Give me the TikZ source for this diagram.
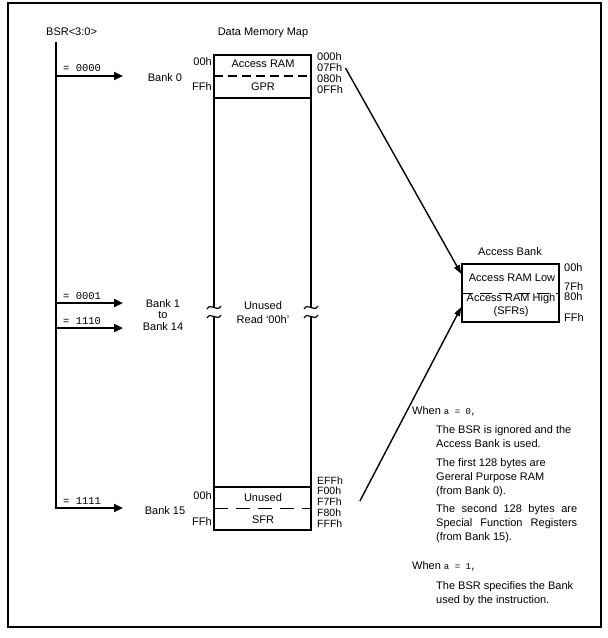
\documentclass[tikz,border=0pt]{standalone}
\usepackage{fontspec}
\setmainfont{Liberation Sans}
\newfontfamily\monof{Liberation Mono}
\usetikzlibrary{arrows.meta,calc}
\begin{document}
\begin{tikzpicture}[x=1pt,y=-1pt,
  txt/.style={font=\fontsize{11}{13}\selectfont, inner sep=0pt},
  mono/.style={font=\monof\fontsize{10.5}{12}\selectfont, inner sep=0pt, anchor=west},
  para/.style={font=\fontsize{11}{14}\selectfont, inner sep=0pt, align=left, anchor=north west},
  bsrarrow/.style={line width=2.2pt, -{Triangle[length=9pt,width=8pt]}},
  diag/.style={line width=1.4pt, -{Triangle[length=9pt,width=6pt]}},
  mem/.style={line width=1.4pt},
  hexr/.style={txt, anchor=west},
  hexl/.style={txt, anchor=east},
  hexs/.style={hexr, font=\fontsize{10.5}{12}\selectfont},
]
\useasboundingbox (0,0) rectangle (608,638);
\draw[line width=2.5pt] (8,3) rectangle (601,627);

% BSR bus
\node[txt, anchor=west] (bsr) at (46,32) {BSR<3:0>};
\coordinate (btop) at (56,42);
\coordinate (b0) at (56,76);
\coordinate (b1) at (56,303);
\coordinate (b14) at (56,328);
\coordinate (bbot) at (56,508);
\coordinate (a0) at (123,76);
\coordinate (a1) at (123,303);
\coordinate (a14) at (123,328);
\coordinate (a15) at (123,508);
\draw[bsrarrow, line join=miter] (btop) -- (bbot) -- (a15);
\draw[bsrarrow] (b0) -- (a0);
\draw[bsrarrow] (b1) -- (a1);
\draw[bsrarrow] (b14) -- (a14);
\node[mono] (s0) at (63,68) {= 0000};
\node[mono] (s1) at (63,296) {= 0001};
\node[mono] (s14) at (63,321) {= 1110};
\node[mono] (s15) at (63,501) {= 1111};
\node[txt] (bank0) at (165,78) {Bank 0};
\node[txt, align=center, font=\fontsize{11}{11.5}\selectfont] (bank1) at (163,315) {Bank 1\\to\\Bank 14};
\node[txt] (bank15) at (165,511) {Bank 15};

% Data memory map
\node[txt] (title) at (263,33) {Data Memory Map};
\draw[mem] (214,55) rectangle (311,98);
\draw[mem] (214,487) rectangle (311,530);
\draw[line width=2pt, dash pattern=on 9pt off 5pt] (214,76) -- (311,76);
\draw[line width=1pt, dash pattern=on 14pt off 8pt] (214,508) -- (311,508);
\foreach \x in {214,311} {
  \draw[mem] (\x,98) -- (\x,307);
  \draw[mem] (\x,316) -- (\x,487);
  \draw[line width=1.2pt] (\x-7,309) .. controls (\x-3,302) and (\x+3,313) .. (\x+7,306);
  \draw[line width=1.2pt] (\x-7,318) .. controls (\x-3,311) and (\x+3,322) .. (\x+7,315);
}
\node[txt] (accram) at (263,64) {Access RAM};
\node[txt] (gpr) at (263,87) {GPR};
\node[txt] (unused) at (263,306) {Unused};
\node[txt] (read) at (263,320) {Read ‘00h’};
\node[txt] (unused15) at (263,498) {Unused};
\node[txt] (sfr) at (263,520) {SFR};
\node[hexl] (l00a) at (212,62) {00h};
\node[hexl] (lFFa) at (212,87) {FFh};
\node[hexl] (l00b) at (212,496) {00h};
\node[hexl] (lFFb) at (212,522) {FFh};
\node[hexr] (r000) at (317,57) {000h};
\node[hexr] (r07F) at (317,68) {07Fh};
\node[hexr] (r080) at (317,79) {080h};
\node[hexr] (r0FF) at (317,90) {0FFh};
\node[hexs] (rEFF) at (317,481) {EFFh};
\node[hexs] (rF00) at (317,491) {F00h};
\node[hexs] (rF7F) at (317,502) {F7Fh};
\node[hexs] (rF80) at (317,513) {F80h};
\node[hexs] (rFFF) at (317,524) {FFFh};

% Access bank
\node[txt] (abtitle) at (510,252) {Access Bank};
\node[draw, line width=1.4pt, minimum width=97pt, minimum height=58pt, inner sep=0pt] (ab) at (510.5,293) {};
\draw[line width=1pt, dash pattern=on 12pt off 7pt] (ab.west) -- (ab.east);
\node[txt] (arl) at (512,278) {Access RAM Low};
\node[txt] (arh) at (511,299) {Access RAM High};
\node[txt] (sfrs) at (511,312) {(SFRs)};
\node[hexr] (ab00) at (564,268) {00h};
\node[hexr] (ab7F) at (564,287) {7Fh};
\node[hexr] (ab80) at (564,297) {80h};
\node[hexr] (abFF) at (564,318) {FFh};
\draw[diag] ([xshift=3pt]r07F.east) -- ([yshift=19pt]ab.west);
\draw[diag] ([xshift=18pt,yshift=1pt]rF7F.east) -- ([yshift=-14pt]ab.west);

% Notes
\node[txt, anchor=west] (w0) at (412,411) {When {\monof\fontsize{9}{12}\selectfont a = 0,}};
\node[para] (p1) at (436,425) {The BSR is ignored and the\\Access Bank is used.};
\node[para] (p2) at (436,458) {The first 128 bytes are\\Gereral Purpose RAM\\(from Bank 0).};
\node[para] (p3) at (436,504) {\hbox to 141pt{The\hfill second\hfill 128\hfill bytes\hfill are}\\\hbox to 141pt{Special\hfill Function\hfill Registers}\\(from Bank 15).};
\node[txt, anchor=west] (w1) at (412,566) {When {\monof\fontsize{9}{12}\selectfont a = 1,}};
\node[para] (p4) at (436,581) {The BSR specifies the Bank\\used by the instruction.};
\end{tikzpicture}
\end{document}
